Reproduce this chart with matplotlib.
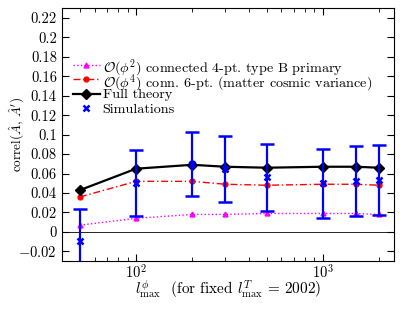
import numpy as np
import matplotlib
matplotlib.use("Agg")
import matplotlib.pyplot as plt
from matplotlib.lines import Line2D

plt.rcParams["font.family"] = "serif"
plt.rcParams["font.serif"] = ["cmr10"]
plt.rcParams["mathtext.fontset"] = "cm"
plt.rcParams["axes.formatter.use_mathtext"] = True
plt.rcParams["font.size"] = 10.5

# l_max^phi values
lmax = [50, 100, 200, 300, 500, 1000, 1500, 2000]

# O(phi^2) connected 4-pt type B primary
phi2 = [0.007, 0.014, 0.018, 0.018, 0.019, 0.019, 0.019, 0.018]
# O(phi^4) conn. 6-pt
phi4 = [0.036, 0.052, 0.052, 0.049, 0.048, 0.049, 0.049, 0.048]
# full theory
full = [0.043, 0.065, 0.069, 0.067, 0.066, 0.067, 0.067, 0.066]
# simulations with errors
sims = [-0.009, 0.050, 0.0695, 0.065, 0.056, 0.050, 0.052, 0.053]
sims_err = [0.033, 0.034, 0.033, 0.034, 0.0345, 0.0355, 0.036, 0.036]

yticks = [-0.02, 0, 0.02, 0.04, 0.06, 0.08, 0.1, 0.12, 0.14, 0.16, 0.18, 0.2, 0.22]
ytick_labels = ["$-$0.02", "0", "0.02", "0.04", "0.06", "0.08", "0.1", "0.12",
                "0.14", "0.16", "0.18", "0.2", "0.22"]

legend_labels = [r"$\mathcal{O}(\phi^2)$ connected 4-pt. type B primary",
                 r"$\mathcal{O}(\phi^4)$ conn. 6-pt. (matter cosmic variance)",
                 "Full theory", "Simulations"]

fig = plt.figure(figsize=(4.15, 3.12), dpi=100)
ax = fig.add_axes([0.149, 0.163, 0.8, 0.811])

ax.axhline(0, color="black", lw=0.6)

st1 = dict(color="magenta", ls=":", marker="^", ms=3.5, lw=1)
st2 = dict(color="red", ls="-.", marker="o", ms=3.5, lw=1, dashes=[5, 2, 1, 2])
st3 = dict(color="black", ls="-", marker="D", ms=5.5, lw=1.6)
st4 = dict(color="blue", ls="none", marker="x", ms=5, mew=1.8)

ax.plot(lmax, phi2, **st1)
ax.plot(lmax, phi4, **st2)
ax.plot(lmax, full, **st3)
ax.errorbar(lmax, sims, yerr=sims_err, fmt="x", color="blue", ms=5, mew=1.8,
            elinewidth=1.6, capsize=5, capthick=1.6)

# legend drawn by hand so that the rows are evenly spaced
x0, x1, xt = 0.033, 0.114, 0.123
y0, dy = 0.776, 0.0575
for i, (st, lab) in enumerate(zip([st1, st2, st3, st4], legend_labels)):
    y = y0 - i * dy
    line_st = {k: v for k, v in st.items() if k not in ("marker", "ms", "mew")}
    ax.add_line(Line2D([x0, x1], [y, y], transform=ax.transAxes, **line_st))
    ax.add_line(Line2D([(x0 + x1) / 2], [y], transform=ax.transAxes, ls="none",
                       color=st["color"], marker=st["marker"], ms=st["ms"],
                       mew=st.get("mew", 1)))
    ax.text(xt, y, lab, transform=ax.transAxes, va="center_baseline", ha="left",
            fontsize=10.2)

ax.set_xscale("log")
ax.set_xlim(40, 2400)
ax.set_ylim(-0.03, 0.23)
ax.set_yticks(yticks)
ax.set_yticklabels(ytick_labels)
ax.tick_params(which="both", direction="in", top=True, right=True)
ax.tick_params(which="major", length=5)
ax.tick_params(which="minor", length=3)
ax.tick_params(axis="x", pad=1.5)

ax.set_ylabel(r"correl$(\hat{A},\,\hat{A}')$", fontsize=9.5)
ax.yaxis.set_label_coords(-0.105, 0.5)
ax.set_xlabel(r"$l^{\phi}_{\rm max}$  (for fixed $l^{T}_{\rm max}\,=\,2002$)", fontsize=11, labelpad=-2)

fig.savefig("out.png", dpi=100)
